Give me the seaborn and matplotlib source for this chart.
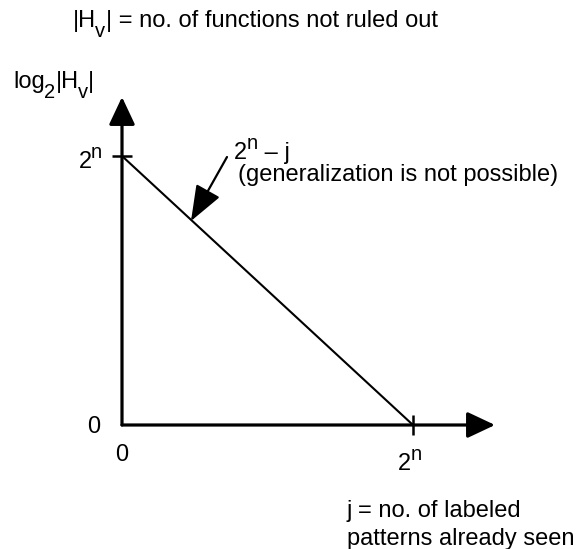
import matplotlib
matplotlib.use('Agg')
import matplotlib.pyplot as plt
import matplotlib.transforms as mtransforms
import seaborn as sns

# j and log2|Hv|, both in units of 2^n
j_vals = [0, 1]
log_h_vals = [1, 0]
tick_x = [1]
tick_y = [1]

sns.set_theme(style='white')
plt.rcParams['font.family'] = ['Liberation Sans', 'DejaVu Sans']
plt.rcParams['text.color'] = 'black'

W, H = 576, 549
X0, Y0 = 122, 425      # pixel of the origin
SX, SY = 291, 269      # pixels per 2^n
FS, FS_SMALL = 17, 14.5
RAISE = 7              # points for super/subscripts


def px(x, y):
    return (x - X0) / SX, (Y0 - y) / SY


fig = plt.figure(figsize=(W / 100, H / 100), dpi=100)
ax = fig.add_axes([0, 0, 1, 1])
ax.set_xlim(px(0, 0)[0], px(W, 0)[0])
ax.set_ylim(px(0, H)[1], px(0, 0)[1])
ax.axis('off')
renderer = fig.canvas.get_renderer()


def rich(x, y, parts, ha='left'):
    # parts: (text, shift) with shift +1 superscript, -1 subscript, 0 normal
    texts = []
    widths = []
    for s, shift in parts:
        t = ax.text(0, 0, s, fontsize=FS if shift == 0 else FS_SMALL, va='baseline',
                    ha='left', color='black')
        w = t.get_window_extent(renderer).width * 72 / fig.dpi
        kern = -0.6 if shift != 0 else 0.3
        widths.append((w, kern if texts else 0))
        texts.append(t)
    total = sum(w + k for w, k in widths)
    start = {'left': 0, 'center': -total / 2, 'right': -total}[ha]
    xd, yd = px(x, y)
    for t, (w, k), (s, shift) in zip(texts, widths, parts):
        start += k
        t.set_position((xd, yd))
        t.set_transform(mtransforms.offset_copy(ax.transData, fig=fig, x=start, y=shift * RAISE,
                                                units='points'))
        start += w


arrow = dict(arrowstyle='-|>,head_length=0.85,head_width=0.4', lw=2.3, color='black',
             mutation_scale=20, shrinkA=0, shrinkB=0)
ax.annotate('', xy=(px(495, 0)[0], 0), xytext=(0, 0), arrowprops=arrow)
ax.annotate('', xy=(0, px(0, 97)[1]), xytext=(0, 0), arrowprops=arrow)

sns.lineplot(x=j_vals, y=log_h_vals, ax=ax, color='black', linewidth=1.5)

ax.plot([0] * len(tick_y), tick_y, marker='_', markersize=15, mew=1.8, color='black', ls='none')
ax.plot(tick_x, [0] * len(tick_x), marker='|', markersize=15, mew=1.8, color='black', ls='none')

rich(102, 168, [('2', 0), ('n', 1)], ha='right')
rich(100, 433, [('0', 0)], ha='right')
rich(122, 461, [('0', 0)], ha='center')
rich(410, 470, [('2', 0), ('n', 1)], ha='center')

rich(13, 88, [('log', 0), ('2', -1), ('|H', 0), ('v', -1), ('|', 0)])
rich(73, 27, [('|H', 0), ('v', -1), ('| = no. of functions not ruled out', 0)])

rich(347, 517, [('j = no. of labeled', 0)])
rich(347, 545, [('patterns already seen', 0)])

rich(234, 159, [('2', 0), ('n', 1), (' – j', 0)])
rich(238, 181, [('(generalization is not possible)', 0)])

ax.annotate('', xy=px(191, 221), xytext=px(227, 157),
            arrowprops=dict(arrowstyle='-|>,head_length=1.1,head_width=0.42', lw=1.6,
                            color='black', mutation_scale=20, shrinkA=0, shrinkB=0))

fig.savefig('out.png', dpi=100)
